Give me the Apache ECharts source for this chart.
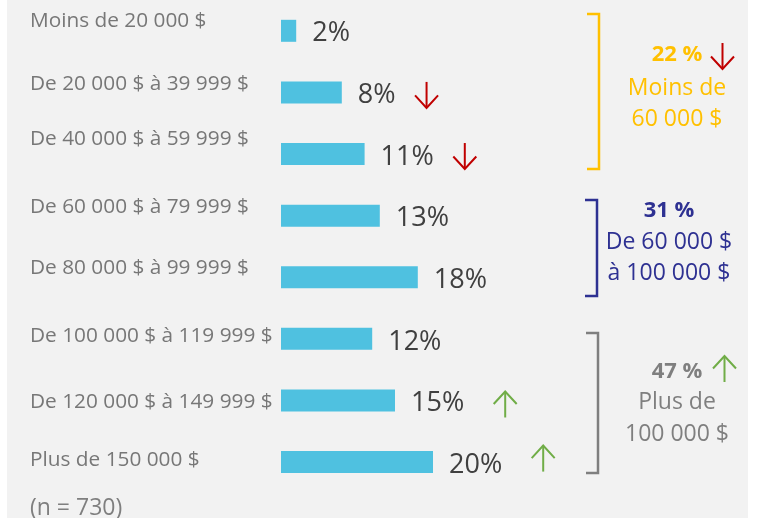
<!DOCTYPE html>
<html lang="fr">
<head>
<meta charset="utf-8">
<script src="https://cdn.jsdelivr.net/npm/echarts@6/dist/echarts.min.js"></script>
<style>
  html, body { margin: 0; padding: 0; background: #ffffff; }
  #panel { position: absolute; left: 7px; top: 0; width: 741px; height: 518px; background: #f2f2f2; }
  #chart { position: absolute; left: 0; top: 0; width: 757px; height: 518px; }
</style>
</head>
<body>
<div id="panel"></div>
<div id="chart"></div>
<script>
// Revenu annuel du ménage — répartition des répondants
const categories = [
  'Moins de 20 000 $',
  'De 20 000 $ à 39 999 $',
  'De 40 000 $ à 59 999 $',
  'De 60 000 $ à 79 999 $',
  'De 80 000 $ à 99 999 $',
  'De 100 000 $ à 119 999 $',
  'De 120 000 $ à 149 999 $',
  'Plus de 150 000 $'
];
const shares = [2, 8, 11, 13, 18, 12, 15, 20];
const trends = ['', 'down', 'down', '', '', '', 'up', 'up'];

// Regroupements affichés à droite
const groupTotals = [22, 31, 47];
const groupLines = [
  ['Moins de', '60 000 $'],
  ['De 60 000 $', 'à 100 000 $'],
  ['Plus de', '100 000 $']
];
const groupTrends = ['down', '', 'up'];
const sampleNote = '(n = 730)';

// Mise en forme
const FONT = '"Open Sans", "Noto Sans", sans-serif';
const VALUE_FONT_SIZE = 27;
const LABEL_DISTANCE = 16;
const arrowColor = { down: '#c00000', up: '#70ad47' };
const arrowGap = { down: 31, up: 41 };          // du bout de l'étiquette au centre de la flèche
const arrowDy = [0, 2.5, 2, 0, 0, 0, 4, -3.5];   // petit décalage vertical par ligne
const labelShift = [-10, -8.5, -14.5, -9, -9, -2.5, 2, -2];

const groupStyle = [
  { color: '#ffc000', x: 599, top: 14, bottom: 169, cx: 677, lines: [55, 88, 119], arrow: [722.5, 56] },
  { color: '#2e3192', x: 597, top: 200, bottom: 296, cx: 669, lines: [211, 242, 273], arrow: null },
  { color: '#7f7f7f', x: 598, top: 333, bottom: 473, cx: 677, lines: [372, 402, 434], arrow: [724.5, 369] }
];

// Flèche fine (tige + chevron ouvert) centrée sur (cx, cy)
function arrowShapes(cx, cy, dir) {
  const h = 13, w = 11.5, arm = 12.5;
  const s = dir === 'down' ? 1 : -1;
  const tip = cy + s * h;
  const color = arrowColor[dir];
  return [
    { type: 'line', shape: { x1: cx, y1: cy - s * h, x2: cx, y2: tip },
      style: { stroke: color, lineWidth: 2 }, z: 10 },
    { type: 'polyline', shape: { points: [[cx - w, tip - s * arm], [cx, tip], [cx + w, tip - s * arm]] },
      style: { stroke: color, lineWidth: 2, fill: null }, z: 10 }
  ];
}

// Styles riches pour décaler verticalement chaque étiquette de catégorie
const catRich = {};
labelShift.forEach((d, i) => {
  catRich['c' + i] = {
    fontFamily: FONT, fontSize: 20.8, color: '#777777',
    padding: d < 0 ? [0, 0, -2 * d, 0] : [2 * d, 0, 0, 0]
  };
});

const chart = echarts.init(document.getElementById('chart'), null, { renderer: 'canvas' });

const graphics = [];
groupStyle.forEach((g, k) => {
  graphics.push({
    type: 'polyline',
    shape: { points: [[g.x - 12, g.top], [g.x, g.top], [g.x, g.bottom], [g.x - 12, g.bottom]] },
    style: { stroke: g.color, lineWidth: 2.5, fill: null }
  });
  graphics.push({
    type: 'text', x: g.cx, y: g.lines[0],
    style: { text: groupTotals[k] + ' %', fill: g.color, font: 'bold 22px ' + FONT, align: 'center', verticalAlign: 'middle' }
  });
  groupLines[k].forEach((t, j) => {
    graphics.push({
      type: 'text', x: g.cx, y: g.lines[j + 1],
      style: { text: t, fill: g.color, font: '23px ' + FONT, align: 'center', verticalAlign: 'middle' }
    });
  });
  if (groupTrends[k]) {
    graphics.push(...arrowShapes(g.arrow[0], g.arrow[1], groupTrends[k]));
  }
});
graphics.push({
  type: 'text', x: 30, y: 508,
  style: { text: sampleNote, fill: '#7f7f7f', font: '23px ' + FONT, align: 'left', verticalAlign: 'middle' }
});

chart.setOption({
  animation: false,
  backgroundColor: 'transparent',
  grid: { left: 281, right: 172, top: -1.4, bottom: 25.1, containLabel: false },
  xAxis: { type: 'value', min: 0, max: 40, show: false },
  yAxis: {
    type: 'category',
    data: categories,
    inverse: true,
    axisLine: { show: false },
    axisTick: { show: false },
    splitLine: { show: false },
    axisLabel: {
      align: 'left',
      margin: 251,
      verticalAlign: 'middle',
      formatter: (value, i) => '{c' + i + '|' + value + '}',
      rich: catRich
    }
  },
  series: [{
    type: 'bar',
    data: shares,
    barWidth: 22,
    itemStyle: { color: '#4fc1e0' },
    label: {
      show: true,
      position: 'right',
      distance: LABEL_DISTANCE,
      offset: [0, 3],
      formatter: p => p.value + '%',
      fontFamily: FONT,
      fontSize: VALUE_FONT_SIZE,
      color: '#404040'
    }
  }],
  graphic: graphics
});

// Flèches de tendance placées après l'étiquette de valeur de chaque barre
const ctx = document.createElement('canvas').getContext('2d');
ctx.font = VALUE_FONT_SIZE + 'px ' + FONT;
const trendArrows = [];
shares.forEach((v, i) => {
  const t = trends[i];
  if (!t) return;
  const [xEnd, yMid] = chart.convertToPixel({ gridIndex: 0 }, [v, i]);
  const labelEnd = xEnd + LABEL_DISTANCE + ctx.measureText(v + '%').width;
  trendArrows.push(...arrowShapes(labelEnd + arrowGap[t], yMid + arrowDy[i], t));
});
chart.setOption({ graphic: graphics.concat(trendArrows) });
</script>
</body>
</html>
